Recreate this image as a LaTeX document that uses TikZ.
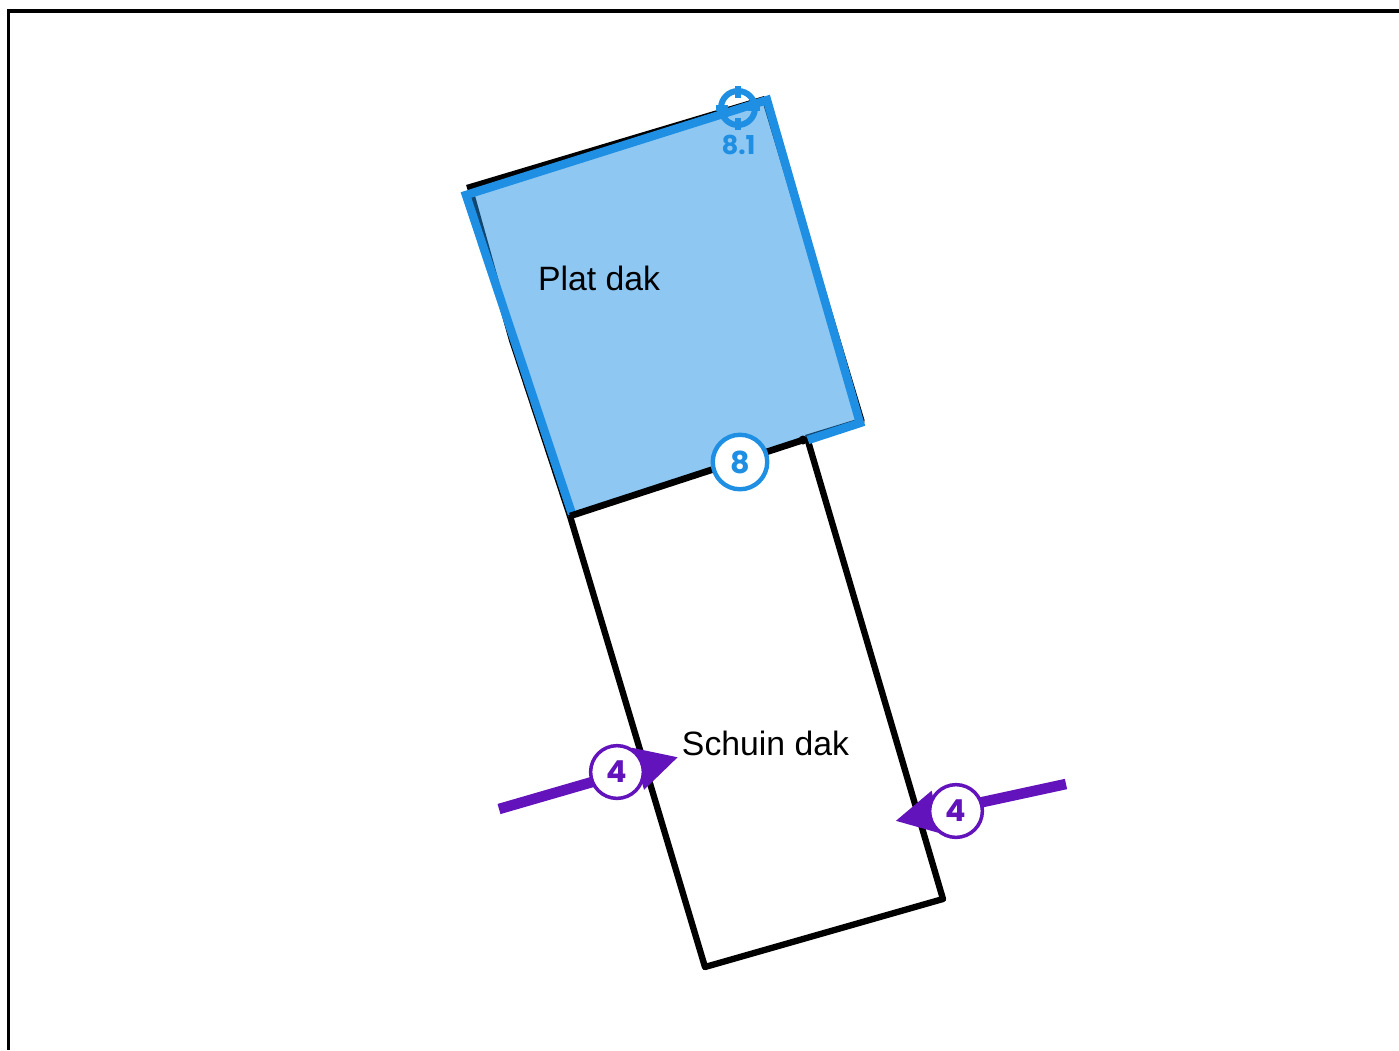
\documentclass[tikz,border=0pt]{standalone}
\usepackage{fontspec}
\setmainfont{Liberation Sans}
\newfontfamily\badgefont{Poppins}
\usetikzlibrary{positioning,calc,arrows,arrows.meta}
\definecolor{roofblue}{HTML}{1E8FE3}
\definecolor{loadpurple}{HTML}{6213BC}

\tikzset{
	roofline/.style={black,line width=1.8pt,line join=round},
	loadarrow/.style={loadpurple,line width=3pt,-{Triangle[length=12pt,width=11.5pt]}},
	badge/.style={circle,draw,fill=white,minimum size=#1,inner sep=0pt,font=\badgefont\bfseries\fontsize{8.6}{10}\selectfont},
	roofnaam/.style={font=\fontsize{9.6}{12}\selectfont,text=black,inner sep=0pt}
}

\begin{document}
\begin{tikzpicture}[x=0.01cm,y=-0.01cm]
	
	\useasboundingbox (0,0) rectangle (1399,1050);
	\draw[black,line width=1pt] (8.5,1050) -- (8.5,11) -- (1399,11);
	
	% schuin dak
	\draw[roofline] (570,516) -- (705,967) -- (943,899) -- (808,441);
	
	% plat dak
	\draw[roofline] (467,188) -- (765,99);
	\draw[roofline] (471,193) -- (512,340) -- (570,516);
	\draw[roofline] (765,99) -- (861.5,421) -- (806,438);
	\fill[roofblue,opacity=0.5] (466,195) -- (767,100) -- (860,423) -- (570,514) -- cycle;
	\draw[roofblue,line width=2.4pt,line join=miter] (808,440) -- (860,423) -- (767,100) -- (466,195) -- (572,514);
	\draw[black,line width=1.9pt] (570,516) -- (803,440);
	\fill[black] (803,440) circle (4.5);
	
	\node[roofnaam] (plat) at (599,278) {Plat dak};
	\node[roofnaam] (schuin) at (765.5,743) {Schuin dak};
	
	% doel
	\draw[roofblue,line width=1.7pt] (738,108) circle (17);
	\draw[roofblue,line width=1.7pt] (738,86) -- (738,98) (738,118) -- (738,130) (716,108) -- (728,108) (748,108) -- (760,108);
	\node[text=roofblue,inner sep=0pt,font=\badgefont\bfseries\fontsize{7.4}{9}\selectfont] (doel) at (738.5,145) {8.1};
	
	% lasten
	\coordinate (loadA) at (499,809);
	\coordinate (tipA) at (678.5,757);
	\coordinate (loadB) at (1066,784);
	\coordinate (tipB) at (895,821);
	\draw[loadarrow] (loadA) -- (tipA);
	\draw[loadarrow] (loadB) -- (tipB);
	
	\node[badge=15pt,draw=loadpurple,text=loadpurple,line width=1pt] (vierA) at (617,772) {4};
	\node[badge=15pt,draw=loadpurple,text=loadpurple,line width=1pt] (vierB) at (956,811) {4};
	\node[badge=15.5pt,draw=roofblue,text=roofblue,line width=1.25pt] (acht) at (740,462) {8};
	
\end{tikzpicture}
\end{document}
